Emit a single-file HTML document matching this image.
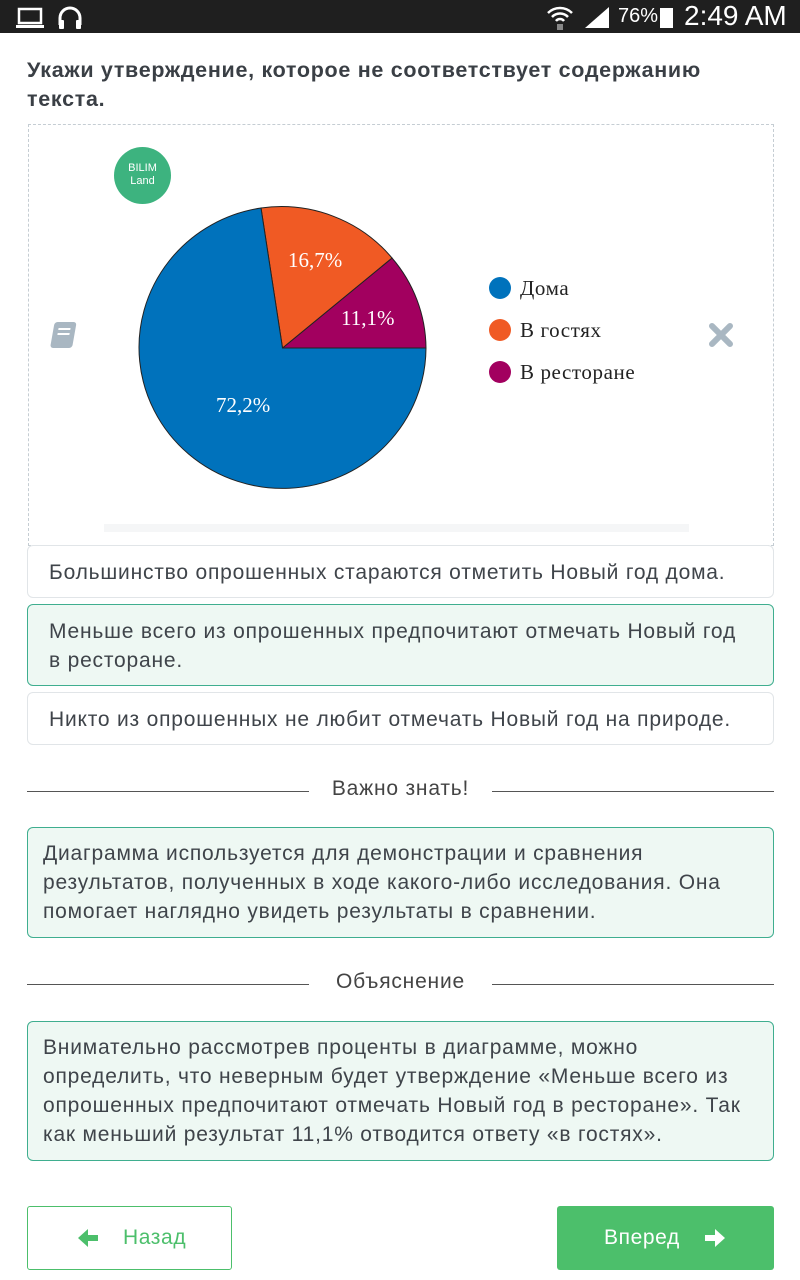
<!DOCTYPE html>
<html><head><meta charset="utf-8"><style>
*{margin:0;padding:0;box-sizing:border-box}
body{width:800px;height:1280px;background:#fff;font-family:"Liberation Sans","DejaVu Sans",sans-serif;position:relative;overflow:hidden;color:#3a3f45}
.abs{position:absolute}
.sb{left:0;top:0;width:800px;height:33px;background:#1f1f1f;color:#fff}
.q{left:27px;top:56px;font-size:21.5px;font-weight:bold;line-height:29px;letter-spacing:0.7px;color:#3a3f45;width:720px}
.box{left:28px;top:124px;width:746px;height:422px;border:1px dashed #c5cdd3}
.opt{left:27px;width:747px;border:1px solid #e1e5e8;border-radius:6px;font-size:21px;letter-spacing:0.8px;line-height:29px;padding:12px 21px;color:#3f444a}
.sel{background:#eef8f3;border-color:#3fae8f}
.info{left:27px;width:747px;border:1px solid #3fae8f;border-radius:6px;background:#eef8f3;font-size:21px;letter-spacing:0.8px;line-height:29px;padding:11px 15px;color:#3f444a}
.hr{height:1px;background:#555}
.sep{font-size:21px;letter-spacing:0.8px;color:#444;text-align:center}
</style></head><body>
<div class="abs sb">
<svg class="abs" style="left:16px;top:7px" width="30" height="22"><rect x="3" y="2" width="22" height="14" fill="none" stroke="#fff" stroke-width="2.5"/><rect x="0" y="18" width="28" height="3" fill="#fff"/></svg>
<svg class="abs" style="left:57px;top:6px" width="26" height="24"><path d="M3 19 V12 A10 10 0 0 1 23 12 V19" fill="none" stroke="#fff" stroke-width="3"/><rect x="2" y="14" width="5" height="9" rx="1" fill="#fff"/><rect x="19" y="14" width="5" height="9" rx="1" fill="#fff"/></svg>
<svg class="abs" style="left:546px;top:4px" width="28" height="26"><path d="M2 9 A17 17 0 0 1 26 9" fill="none" stroke="#fff" stroke-width="2.5"/><path d="M6 13 A11 11 0 0 1 22 13" fill="none" stroke="#fff" stroke-width="2.5"/><path d="M10 17 A5 5 0 0 1 18 17" fill="none" stroke="#fff" stroke-width="2.5"/><rect x="11" y="20" width="6" height="6" fill="#888"/></svg>
<svg class="abs" style="left:583px;top:7px" width="28" height="22"><polygon points="2,21 26,21 26,0" fill="#fff"/></svg>
<div class="abs" style="left:618px;top:5px;font-size:20px">76%</div>
<div class="abs" style="left:660px;top:8px;width:13px;height:20px;background:#fff"></div>
<div class="abs" style="left:684px;top:0px;font-size:28px">2:49 AM</div>
</div>
<div class="abs q">Укажи утверждение, которое не соответствует содержанию текста.</div>
<div class="abs box"></div>
<div class="abs" style="left:104px;top:524px;width:585px;height:8px;background:#f5f6f7"></div>
<div class="abs" style="left:114px;top:147px;width:57px;height:57px;border-radius:50%;background:#3db37f;color:#fff;font-size:11px;line-height:13px;text-align:center;padding-top:15px">BILIM<br>Land</div>
<svg class="abs" style="left:0;top:0" width="800" height="560">
<path d="M282.5,348 L426,348 A143.5 141 0 0 0 392,258 Z" fill="#a2005f" stroke="#222" stroke-width="1"/>
<path d="M282.5,348 L392,258 A143.5 141 0 0 0 261,208 Z" fill="#f05a24" stroke="#222" stroke-width="1"/>
<path d="M282.5,348 L261,208 A143.5 141 0 1 0 426,348 Z" fill="#0072bc" stroke="#222" stroke-width="1"/>
<g font-family="Liberation Serif,serif" font-size="21" fill="#fff">
<text x="288" y="267">16,7%</text><text x="341" y="325">11,1%</text><text x="216" y="412">72,2%</text></g>
<g font-family="Liberation Serif,serif" font-size="21" fill="#222" letter-spacing="0.6">
<circle cx="500" cy="288" r="11" fill="#0072bc"/><text x="520" y="295">Дома</text>
<circle cx="500" cy="330" r="11" fill="#f05a24"/><text x="520" y="337">В  гостях</text>
<circle cx="500" cy="372" r="11" fill="#a2005f"/><text x="520" y="379">В  ресторане</text></g>
<g transform="translate(50,320) skewX(-10)"><rect x="5" y="2" width="22" height="26" rx="3" fill="#a9b7c2"/><rect x="10" y="8" width="12" height="2" fill="#fff"/><rect x="10" y="13" width="12" height="2" fill="#fff"/></g>
<path d="M712,326 L730,344 M730,326 L712,344" stroke="#a9b7c2" stroke-width="6" stroke-linecap="round"/>
</svg>
<div class="abs opt" style="top:545px;height:53px">Большинство опрошенных стараются отметить Новый год дома.</div>
<div class="abs opt sel" style="top:604px;height:82px">Меньше всего из опрошенных предпочитают отмечать Новый год в ресторане.</div>
<div class="abs opt" style="top:692px;height:53px">Никто из опрошенных не любит отмечать Новый год на природе.</div>
<div class="abs hr" style="left:27px;top:791px;width:282px"></div>
<div class="abs hr" style="left:492px;top:791px;width:282px"></div>
<div class="abs sep" style="left:309px;top:777px;width:183px">Важно знать!</div>
<div class="abs info" style="top:827px;height:111px">Диаграмма используется для демонстрации и сравнения результатов, полученных в ходе какого-либо исследования. Она помогает наглядно увидеть результаты в сравнении.</div>
<div class="abs hr" style="left:27px;top:984px;width:282px"></div>
<div class="abs hr" style="left:492px;top:984px;width:282px"></div>
<div class="abs sep" style="left:309px;top:970px;width:183px">Объяснение</div>
<div class="abs info" style="top:1021px;height:140px">Внимательно рассмотрев проценты в диаграмме, можно определить, что неверным будет утверждение «Меньше всего из опрошенных предпочитают отмечать Новый год в ресторане». Так как меньший результат 11,1% отводится ответу «в гостях».</div>
<div class="abs" style="left:27px;top:1206px;width:205px;height:64px;border:1px solid #4cbf6b;border-radius:3px;color:#4cbf6b;font-size:21px;letter-spacing:0.6px;line-height:62px">
<svg class="abs" style="left:48px;top:20px" width="24" height="22"><path d="M2 11 L12 2 V8 H22 V14 H12 V20 Z" fill="#4cbf6b"/></svg>
<span style="position:absolute;left:95px">Назад</span></div>
<div class="abs" style="left:557px;top:1206px;width:217px;height:64px;background:#4cbf6b;border-radius:3px;color:#fff;font-size:21px;letter-spacing:0.6px;line-height:64px"><span style="position:absolute;left:47px">Вперед</span>
<svg class="abs" style="left:146px;top:21px" width="24" height="22"><path d="M22 11 L12 2 V8 H2 V14 H12 V20 Z" fill="#fff"/></svg></div>
</body></html>
